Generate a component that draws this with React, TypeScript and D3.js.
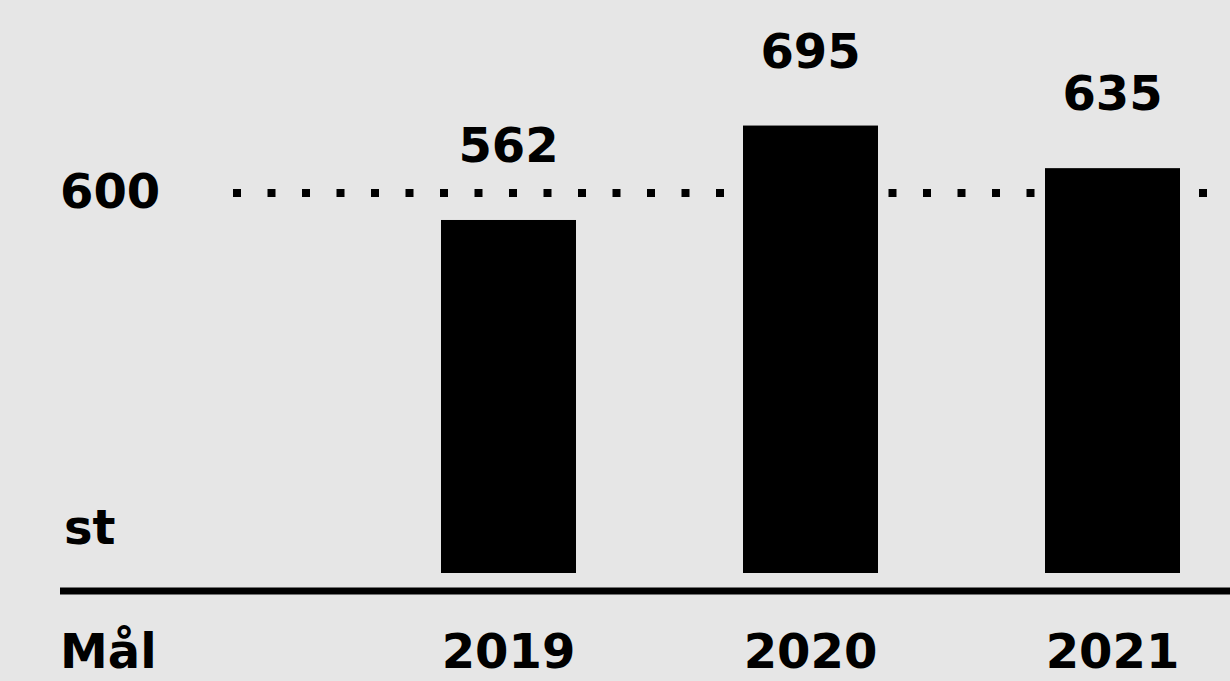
import React from "react";
import * as d3 from "d3";

const years: string[] = ["2019", "2020", "2021"];
const values: number[] = [562, 695, 635];
const target: number = 600;
const unitLabel = "st";
const targetLabel = "Mål";

const W = 1230;
const H = 681;

export default function App() {
  const x = d3
    .scaleBand<string>()
    .domain(years)
    .range([290, 1331])
    .paddingInner(0.553)
    .paddingOuter(0.5);
  const y = d3.scaleLinear().domain([0, 700]).range([619, 122]);
  const barBottom = 573;
  const axisY = 591;
  const font = "'DejaVu Sans', Verdana, sans-serif";
  const targetLine = d3.line<[number, number]>()([
    [233, y(target)],
    [W, y(target)],
  ]);

  return (
    <svg
      width={W}
      height={H}
      viewBox={`0 0 ${W} ${H}`}
      style={{ position: "absolute", left: 0, top: 0, display: "block" }}
    >
      <rect x={0} y={0} width={W} height={H} fill="#e6e6e6" />
      {/* target dotted line */}
      <path
        d={targetLine || ""}
        stroke="#000"
        strokeWidth={8}
        strokeDasharray="8 26.5"
        fill="none"
      />
      <text
        x={60}
        y={y(target) + 15}
        fontFamily={font}
        fontWeight="bold"
        fontSize={48}
        fill="#000"
      >
        {target}
      </text>
      {/* bars */}
      {years.map((yr, i) => (
        <g key={yr}>
          <rect
            x={x(yr)!}
            y={y(values[i])}
            width={x.bandwidth()}
            height={barBottom - y(values[i])}
            fill="#000"
          />
          <text
            x={x(yr)! + x.bandwidth() / 2}
            y={y(values[i]) - 58}
            textAnchor="middle"
            fontFamily={font}
            fontWeight="bold"
            fontSize={48}
            fill="#000"
          >
            {values[i]}
          </text>
          <text
            x={x(yr)! + x.bandwidth() / 2}
            y={668}
            textAnchor="middle"
            fontFamily={font}
            fontWeight="bold"
            fontSize={48}
            fill="#000"
          >
            {yr}
          </text>
        </g>
      ))}
      {/* unit */}
      <text x={64} y={544} fontFamily={font} fontWeight="bold" fontSize={48} fill="#000">
        {unitLabel}
      </text>
      {/* axis line */}
      <line x1={60} x2={W} y1={axisY} y2={axisY} stroke="#000" strokeWidth={7} />
      <text x={60} y={668} fontFamily={font} fontWeight="bold" fontSize={48} fill="#000">
        {targetLabel}
      </text>
    </svg>
  );
}
